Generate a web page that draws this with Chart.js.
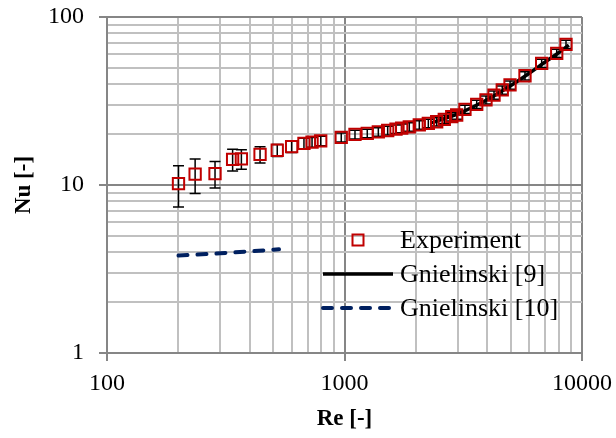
<!DOCTYPE html>
<html><head><meta charset="utf-8">
<script src="https://cdn.jsdelivr.net/npm/chart.js@4.4.1/dist/chart.umd.min.js"></script>
<style>html,body{margin:0;padding:0;background:#fff}</style>
</head><body>
<canvas id="c" width="616" height="438" style="width:616px;height:438px;display:block"></canvas>
<script>
// ---- data ----
const reExp = [200,235,285,338,368,441,521,599,675,730,794,969,1107,1247,1388,1520,1648,1741,1874,2065,2254,2444,2631,2828,2967,3215,3603,3942,4261,4616,4977,5754,6763,7826,8564];
const nuExp = [10.2,11.6,11.7,14.2,14.3,15.2,16.1,16.9,17.7,18.0,18.3,19.2,20.0,20.3,20.7,21.1,21.5,21.8,22.2,22.8,23.3,23.8,24.6,25.5,26.1,28.2,30.2,32.1,34.3,36.8,39.4,44.7,53.0,60.8,68.8];
const nuErr = [2.8,2.7,2.1,2.1,1.9,1.7,1.3,1.3,1.25,1.2,1.2,1.2,1.2,1.2,1.2,1.25,1.25,1.3,1.3,1.3,1.35,1.35,1.4,1.45,1.5,1.6,1.7,1.8,1.95,2.1,2.2,2.5,3.0,3.4,3.8];
const reGn9 = [2300,3000,4000,5000,6000,7000,8000,8800];
const nuGn9 = [23.3,26.5,32.3,39.0,46.3,54.0,61.5,68.0];
const reGn10 = [200,300,400,530];
const nuGn10 = [3.80,3.92,4.03,4.14];
const xTicks = [100,200,300,400,500,600,700,800,900,1000,2000,3000,4000,5000,6000,7000,8000,9000,10000];
const yTicks = [1,2,3,4,5,6,7,8,9,10,20,30,40,50,60,70,80,90,100];
const xLabelTicks = [100,1000,10000];
const yLabelTicks = [1,10,100];
const seriesNames = ['Experiment','Gnielinski [9]','Gnielinski [10]'];
const xTitle = 'Re [-]';
const yTitle = 'Nu [-]';

const FONT = "'Liberation Serif', 'Times New Roman', serif";
const MAJOR = '#868686', MINOR = '#c0c0c0';
const RED = '#C00000', NAVY = '#002060';

const errorBars = {
  id: 'errorBars',
  beforeDatasetsDraw(chart) {
    const {ctx, scales: {x, y}} = chart;
    ctx.save();
    ctx.strokeStyle = '#000';
    ctx.lineWidth = 1.5;
    const cap = 5.5;
    reExp.forEach((re, i) => {
      const px = x.getPixelForValue(re);
      const t = y.getPixelForValue(nuExp[i] + nuErr[i]);
      const b = y.getPixelForValue(nuExp[i] - nuErr[i]);
      ctx.beginPath();
      ctx.moveTo(px, t); ctx.lineTo(px, b);
      ctx.moveTo(px - cap, t); ctx.lineTo(px + cap, t);
      ctx.moveTo(px - cap, b); ctx.lineTo(px + cap, b);
      ctx.stroke();
    });
    ctx.restore();
  }
};

const legendPlugin = {
  id: 'customLegend',
  afterDatasetsDraw(chart) {
    const {ctx} = chart;
    const ds = chart.data.datasets;
    const x0 = 323, x1 = 393, tx = 400;
    const rows = [240, 274, 308];
    ctx.save();
    ctx.font = '26px ' + FONT;
    ctx.fillStyle = '#000';
    ctx.textBaseline = 'middle';
    ds.forEach((d, i) => {
      const yy = rows[i];
      if (i === 0) {
        ctx.strokeStyle = d.borderColor;
        ctx.lineWidth = d.borderWidth;
        ctx.strokeRect(358 - 5.5, yy - 5.5, 11, 11);
      } else {
        ctx.beginPath();
        ctx.strokeStyle = d.borderColor;
        ctx.lineWidth = d.borderWidth;
        ctx.lineCap = d.borderCapStyle || 'butt';
        ctx.setLineDash(d.borderDash || []);
        ctx.moveTo(x0, yy); ctx.lineTo(x1, yy);
        ctx.stroke();
        ctx.setLineDash([]);
      }
      ctx.fillText(d.label, tx, yy + 1);
    });
    ctx.restore();
  }
};

const isIn = (arr, v) => arr.some(a => Math.abs(a - v) < 1e-9 * Math.max(1, a));

new Chart(document.getElementById('c'), {
  type: 'scatter',
  data: {
    datasets: [
      {
        label: seriesNames[0],
        data: reExp.map((r, i) => ({x: r, y: nuExp[i]})),
        showLine: false,
        pointStyle: 'rect',
        pointRadius: 8,
        pointBorderWidth: 2,
        borderColor: RED,
        borderWidth: 2,
        backgroundColor: 'rgba(0,0,0,0)',
        order: 0
      },
      {
        label: seriesNames[1],
        data: reGn9.map((r, i) => ({x: r, y: nuGn9[i]})),
        showLine: true,
        pointRadius: 0,
        borderColor: '#000',
        borderWidth: 3.5,
        tension: 0.3,
        order: 1
      },
      {
        label: seriesNames[2],
        data: reGn10.map((r, i) => ({x: r, y: nuGn10[i]})),
        showLine: true,
        pointRadius: 0,
        borderColor: NAVY,
        borderWidth: 4,
        borderDash: [9, 10],
        borderCapStyle: 'round',
        order: 2
      }
    ]
  },
  options: {
    responsive: false,
    devicePixelRatio: 1,
    animation: false,
    layout: {padding: {left: 0, right: 34, top: 17, bottom: 0}},
    plugins: {legend: {display: false}, tooltip: {enabled: false}},
    scales: {
      x: {
        type: 'logarithmic',
        min: 100, max: 10000,
        afterBuildTicks: (axis) => { axis.ticks = xTicks.map(v => ({value: v, major: isIn(xLabelTicks, v)})); },
        afterFit: (axis) => { axis.height = 85; axis.paddingLeft = 0; axis.paddingRight = 0; },
        ticks: {
          autoSkip: false, maxRotation: 0, padding: 8,
          color: '#000', font: {family: FONT, size: 24},
          callback: (v) => isIn(xLabelTicks, v) ? String(v) : ''
        },
        grid: {
          color: (c) => (c.tick && isIn(xLabelTicks, c.tick.value)) ? MAJOR : MINOR,
          tickColor: (c) => (c.tick && isIn(xLabelTicks, c.tick.value)) ? MAJOR : 'rgba(0,0,0,0)',
          lineWidth: 2, tickLength: 8, drawTicks: true
        },
        border: {color: MAJOR, width: 2},
        title: {display: true, text: xTitle, color: '#000', font: {family: FONT, size: 23, weight: 'bold'}, padding: {top: 0, bottom: 5}}
      },
      y: {
        type: 'logarithmic',
        min: 1, max: 100,
        afterBuildTicks: (axis) => { axis.ticks = yTicks.map(v => ({value: v, major: isIn(yLabelTicks, v)})); },
        afterFit: (axis) => { axis.width = 107; axis.paddingTop = 0; axis.paddingBottom = 0; },
        ticks: {
          autoSkip: false, padding: 15,
          color: '#000', font: {family: FONT, size: 24},
          callback: (v) => isIn(yLabelTicks, v) ? String(v) : ''
        },
        grid: {
          color: (c) => (c.tick && isIn(yLabelTicks, c.tick.value)) ? MAJOR : MINOR,
          tickColor: (c) => (c.tick && isIn(yLabelTicks, c.tick.value)) ? MAJOR : 'rgba(0,0,0,0)',
          lineWidth: 2, tickLength: 8, drawTicks: true
        },
        border: {color: MAJOR, width: 2},
        title: {display: true, text: yTitle, color: '#000', font: {family: FONT, size: 23, weight: 'bold'}, padding: {top: 10, bottom: 0}}
      }
    }
  },
  plugins: [errorBars, legendPlugin]
});
</script>
</body></html>
